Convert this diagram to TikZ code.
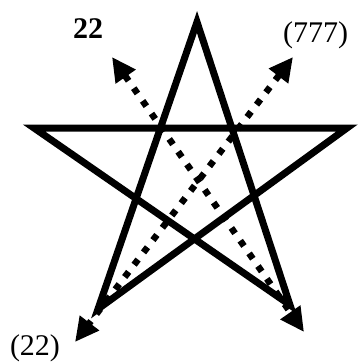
\documentclass[tikz,border=0pt]{standalone}
\usepackage{fontspec}
\setmainfont{Liberation Serif}
\usetikzlibrary{arrows.meta}

\begin{document}
\begin{tikzpicture}[x=1pt, y=-1pt,
    edge/.style={line width=7pt, line join=miter},
    ray/.style={line width=6.5pt, dash pattern=on 6.5pt off 9pt,
                {Triangle[length=24pt,width=23pt]}-{Triangle[length=24pt,width=23pt]}},
    tag/.style={font=\fontsize{30}{33}\selectfont, text=black, inner sep=0pt, anchor=base},
  ]

  % ---------------- page: one pixel of the picture is one pt --------------
  \useasboundingbox (0,0) rectangle (358,362);

  % ---------------- corners of the star ------------------------------------
  \path (197,22)  coordinate (top)
        (34,128)  coordinate (left)
        (347,128) coordinate (right)
        (98,309)  coordinate (lowleft)
        (290,305) coordinate (lowright);

  % ---------------- ends of the two dotted arrows --------------------------
  \path (112,57)  coordinate (upA)
        (304,332) coordinate (downA)
        (293,57)  coordinate (upB)
        (75,342)  coordinate (downB);

  % ---------------- the star, one closed stroke ----------------------------
  \draw[edge] (top) -- (lowleft) -- (right) -- (left) -- (lowright) -- cycle;

  % ---------------- dotted arrows, crossing in the middle ------------------
  \draw[ray] (upA) -- (downA);
  \draw[ray] (upB) -- (downB);

  % ---------------- labels -------------------------------------------------
  \node[tag, font=\fontsize{30}{33}\selectfont\bfseries] (tagtop) at (88,38) {22};
  \node[tag] (tagright) at (315.5,42) {(777)};
  \node[tag] (tagleft)  at (35,355)   {(22)};

\end{tikzpicture}
\end{document}
